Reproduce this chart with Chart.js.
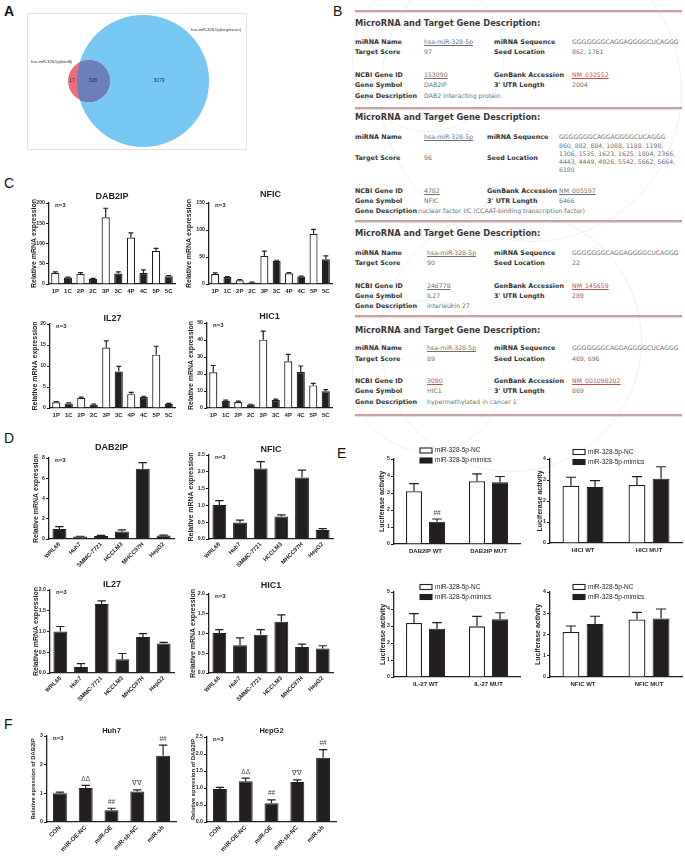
<!DOCTYPE html>
<html><head><meta charset="utf-8">
<script src="https://cdn.jsdelivr.net/npm/chart.js@4.4.1/dist/chart.umd.min.js"></script>
<style>
body{margin:0;background:#fff;}
#fig{position:relative;width:685px;height:857px;overflow:hidden;font-family:Arial,"Liberation Sans",sans-serif;}
.pl{position:absolute;font-size:14px;color:#111;line-height:1}
canvas{position:absolute}
.b{position:absolute;white-space:nowrap;line-height:1;font-family:"DejaVu Sans",Verdana,sans-serif}
.h{font-weight:bold;font-size:8.3px;color:#3a3a3a}
.k{font-weight:bold;font-size:6.4px;color:#333}
.v{font-size:6.2px;color:#707070}
.u{text-decoration:underline}
.r{color:#c0504d;text-decoration:underline}
.sep{position:absolute;left:355px;width:327px;height:2px;background:#c9a3a3;box-shadow:0 1px 0 #eadada}
.wm{position:absolute;border:1px solid #efefef;border-radius:50%}
#vennBox{position:absolute;left:27px;top:13px;width:218px;height:135px;border:1px solid #e2e2e2}
</style></head><body><div id="fig">
<div class="pl" style="left:4px;top:4px;font-weight:bold">A</div>
<div class="pl" style="left:333px;top:4px">B</div>
<div class="pl" style="left:4px;top:176px">C</div>
<div class="pl" style="left:4px;top:431px">D</div>
<div class="pl" style="left:337px;top:446px">E</div>
<div class="pl" style="left:4px;top:717px">F</div>
<div id="vennBox"></div>
<div class="wm" style="left:352px;top:-20px;width:150px;height:150px"></div>
<div class="wm" style="left:380px;top:-60px;width:300px;height:300px"></div>
<div class="wm" style="left:352px;top:300px;width:150px;height:150px"></div>
<div class="wm" style="left:380px;top:210px;width:260px;height:260px"></div>
</div>
<script>
// ---------- data ----------
const vennSets = ['hsa-miR-328-5p(mirdb)', 'hsa-miR-328-5p(targetscan)'];
const vennCounts = [17, 328, 3079]; // mirdb only, both, targetscan only

const tissues = ['1P', '1C', '2P', '2C', '3P', '3C', '4P', '4C', '5P', '5C'];
const cDab2ip = [27, 16, 25, 13, 165, 26, 115, 27, 82, 19];
const cDab2ipErr = [3, 1, 3, 1, 22, 4, 11, 8, 6, 2];
const cNfic = [18.5, 13, 7, 3, 52, 43, 20, 14, 93, 46];
const cNficErr = [2, 0.5, 1, 0.5, 9, 1, 1, 0.5, 8, 6];
const cIl27 = [1.35, 1.1, 2.4, 0.8, 14.4, 8.7, 3.3, 2.6, 12.7, 1.0];
const cIl27Err = [0.15, 0.1, 0.2, 0.1, 1.6, 1.2, 0.4, 0.2, 2.0, 0.1];
const cHic1 = [21, 4.3, 3.5, 2, 40.2, 4.7, 27.5, 21.2, 13.3, 9.8];
const cHic1Err = [4, 0.3, 0.5, 0.2, 5, 0.5, 4, 3.5, 1.2, 1];

const cellLines = ['WRL68', 'Huh7', 'SMMC-7721', 'HCCLM3', 'MHCC97H', 'HepG2'];
const dDab2ip = [1.0, 0.25, 0.3, 0.75, 6.95, 0.35];
const dDab2ipErr = [0.22, 0.02, 0.06, 0.15, 0.6, 0.04];
const dNfic = [1.01, 0.49, 2.1, 0.67, 1.83, 0.27];
const dNficErr = [0.13, 0.07, 0.2, 0.05, 0.22, 0.04];
const dIl27 = [1.0, 0.145, 1.66, 0.33, 0.87, 0.71];
const dIl27Err = [0.12, 0.08, 0.08, 0.14, 0.08, 0.03];
const dHic1 = [1.01, 0.7, 0.97, 1.3, 0.66, 0.62];
const dHic1Err = [0.09, 0.19, 0.13, 0.17, 0.07, 0.07];

const lucSeries = ['miR-328-5p-NC', 'miR-328-5p-mimics'];
const lucDab2ip = ['DAB2IP WT', 'DAB2IP MUT'];
const lucHic1 = ['HICI WT', 'HICI MUT'];
const lucIl27 = ['IL-27 WT', 'IL-27 MUT'];
const lucNfic = ['NFIC WT', 'NFIC MUT'];
const eDab2ipNC = [3.1, 3.69], eDab2ipNCErr = [0.45, 0.44];
const eDab2ipMim = [1.31, 3.63], eDab2ipMimErr = [0.16, 0.34];
const eHic1NC = [2.73, 2.76], eHic1NCErr = [0.4, 0.4];
const eHic1Mim = [2.67, 3.06], eHic1MimErr = [0.3, 0.57];
const eIl27NC = [3.18, 2.98], eIl27NCErr = [0.55, 0.59];
const eIl27Mim = [2.84, 3.39], eIl27MimErr = [0.36, 0.39];
const eNficNC = [2.12, 2.71], eNficNCErr = [0.28, 0.33];
const eNficMim = [2.5, 2.75], eNficMimErr = [0.36, 0.45];

const groups = ['CON', 'miR-OE-NC', 'miR-OE', 'miR-sh-NC', 'miR-sh'];
const fHuh7 = [1.0, 1.19, 0.41, 1.06, 2.31];
const fHuh7Err = [0.04, 0.09, 0.07, 0.06, 0.37];
const fHepG2 = [0.97, 1.2, 0.55, 1.18, 1.89];
const fHepG2Err = [0.05, 0.09, 0.1, 0.06, 0.24];
const fMarks = ['', 'ΔΔ', '##', '∇∇', '##'];

// ---------- helpers ----------
const fig = document.getElementById('fig');
const ink = '#231f20';
const FONT = 'Arial, "Liberation Sans", sans-serif';

// panel B text
const B = [
  [355, 23, 'MicroRNA and Target Gene Description:', 'h'],
  [355, 43, 'miRNA Name', 'k'], [424, 43, 'hsa-miR-328-5p', 'v u'], [494, 43, 'miRNA Sequence', 'k'], [572, 43, 'GGGGGGGCAGGAGGGGCUCAGGG', 'v'],
  [355, 53, 'Target Score', 'k'], [424, 53, '97', 'v'], [494, 53, 'Seed Location', 'k'], [572, 53, '862, 1761', 'v'],
  [355, 76, 'NCBI Gene ID', 'k'], [424, 76, '153090', 'v u'], [494, 76, 'GenBank Accession', 'k'], [572, 76, 'NM_032552', 'v r'],
  [355, 86, 'Gene Symbol', 'k'], [424, 86, 'DAB2IP', 'v'], [494, 86, "3' UTR Length", 'k'], [572, 86, '2004', 'v'],
  [355, 97, 'Gene Description', 'k'], [424, 97, 'DAB2 interacting protein', 'v'],
  [355, 117, 'MicroRNA and Target Gene Description:', 'h'],
  [355, 138, 'miRNA Name', 'k'], [424, 138, 'hsa-miR-328-5p', 'v u'], [487, 138, 'miRNA Sequence', 'k'], [559, 138, 'GGGGGGGCAGGAGGGGCUCAGGG', 'v'],
  [559, 147, '860, 882, 884, 1088, 1188, 1190,', 'v'], [559, 155, '1306, 1535, 1623, 1625, 1804, 2366,', 'v'],
  [559, 163, '4443, 4449, 4926, 5542, 5662, 5664,', 'v'], [559, 171, '6180', 'v'],
  [355, 159, 'Target Score', 'k'], [424, 159, '96', 'v'], [487, 159, 'Seed Location', 'k'],
  [355, 192, 'NCBI Gene ID', 'k'], [424, 192, '4782', 'v u'], [487, 192, 'GenBank Accession', 'k'], [559, 192, 'NM_005597', 'v u'],
  [355, 202, 'Gene Symbol', 'k'], [424, 202, 'NFIC', 'v'], [487, 202, "3' UTR Length", 'k'], [559, 202, '6466', 'v'],
  [355, 212, 'Gene Description', 'k'], [418, 212, 'nuclear factor I/C (CCAAT-binding transcription factor)', 'v'],
  [355, 233, 'MicroRNA and Target Gene Description:', 'h'],
  [355, 254, 'miRNA Name', 'k'], [427, 254, 'hsa-miR-328-5p', 'v u'], [494, 254, 'miRNA Sequence', 'k'], [572, 254, 'GGGGGGGCAGGAGGGGCUCAGGG', 'v'],
  [355, 264, 'Target Score', 'k'], [427, 264, '90', 'v'], [494, 264, 'Seed Location', 'k'], [572, 264, '22', 'v'],
  [355, 287, 'NCBI Gene ID', 'k'], [427, 287, '246778', 'v u'], [494, 287, 'GenBank Accession', 'k'], [572, 287, 'NM_145659', 'v r'],
  [355, 297, 'Gene Symbol', 'k'], [427, 297, 'IL27', 'v'], [494, 297, "3' UTR Length", 'k'], [572, 297, '289', 'v'],
  [355, 307, 'Gene Description', 'k'], [427, 307, 'interleukin 27', 'v'],
  [355, 330, 'MicroRNA and Target Gene Description:', 'h'],
  [355, 349, 'miRNA Name', 'k'], [427, 349, 'hsa-miR-328-5p', 'v u'], [494, 349, 'miRNA Sequence', 'k'], [572, 349, 'GGGGGGGCAGGAGGGGCUCAGGG', 'v'],
  [355, 360, 'Target Score', 'k'], [427, 360, '89', 'v'], [494, 360, 'Seed Location', 'k'], [572, 360, '469, 696', 'v'],
  [355, 382, 'NCBI Gene ID', 'k'], [427, 382, '3090', 'v r'], [494, 382, 'GenBank Accession', 'k'], [572, 382, 'NM_001098202', 'v r'],
  [355, 392, 'Gene Symbol', 'k'], [427, 392, 'HIC1', 'v'], [494, 392, "3' UTR Length", 'k'], [572, 392, '869', 'v'],
  [355, 403, 'Gene Description', 'k'], [427, 403, 'hypermethylated in cancer 1', 'v']
];
B.forEach(([x, y, t, cls]) => {
  const d = document.createElement('div');
  d.className = 'b ' + cls;
  d.textContent = t;
  d.style.left = x + 'px';
  d.style.top = (y - 4) + 'px';
  fig.appendChild(d);
});
[10, 107, 220, 315, 414].forEach(y => {
  const d = document.createElement('div');
  d.className = 'sep';
  d.style.top = y + 'px';
  fig.appendChild(d);
});

// error bars + marks
const errorBars = {
  id: 'errorBars',
  afterDatasetsDraw(chart) {
    const ctx = chart.ctx, y = chart.scales.y;
    chart.data.datasets.forEach((ds, i) => {
      if (!ds.errors) return;
      chart.getDatasetMeta(i).data.forEach((bar, j) => {
        const top = y.getPixelForValue(ds.data[j] + ds.errors[j]);
        const cap = bar.width * 0.3;
        ctx.save();
        ctx.strokeStyle = ink;
        ctx.lineWidth = 1.2;
        ctx.beginPath();
        ctx.moveTo(bar.x, bar.y);
        ctx.lineTo(bar.x, top);
        ctx.moveTo(bar.x - cap, top);
        ctx.lineTo(bar.x + cap, top);
        ctx.stroke();
        if (ds.marks && ds.marks[j]) {
          ctx.fillStyle = '#444';
          ctx.font = '6.5px ' + FONT;
          ctx.textAlign = 'center';
          ctx.textBaseline = 'bottom';
          ctx.fillText(ds.marks[j], bar.x, top - 3);
        }
        ctx.restore();
      });
    });
  }
};

// titles, n=3, legends
const panelText = {
  id: 'panelText',
  afterDraw(chart, args, o) {
    const ctx = chart.ctx, a = chart.chartArea;
    ctx.save();
    ctx.fillStyle = ink;
    ctx.textBaseline = 'middle';
    if (o.title) {
      ctx.font = 'bold ' + (o.titleSize || 9) + 'px ' + FONT;
      ctx.textAlign = 'center';
      ctx.fillText(o.title, (a.left + a.right) / 2, a.top + o.titleDy);
    }
    if (o.note) {
      ctx.font = 'bold 6px ' + FONT;
      ctx.textAlign = 'left';
      ctx.fillText(o.note, a.left + 6, a.top + 2);
    }
    if (o.legend) {
      chart.data.datasets.forEach((ds, i) => {
        const x = a.left + o.legend.dx, yy = a.top + o.legend.dy + i * 10;
        ctx.fillStyle = ds.backgroundColor;
        ctx.fillRect(x, yy - 2.5, 12, 5);
        ctx.strokeStyle = ink;
        ctx.lineWidth = 1.1;
        ctx.strokeRect(x, yy - 2.5, 12, 5);
        ctx.fillStyle = ink;
        ctx.font = '6.5px ' + FONT;
        ctx.textAlign = 'left';
        ctx.fillText(ds.label, x + 15, yy);
      });
    }
    ctx.restore();
  }
};

function barChart(g) {
  const cl = g.tx - 6;
  const ct = g.top - (g.padT || 16);
  const padR = 4;
  const w = Math.round(g.right + padR - cl), h = Math.round(g.bottom + g.xH - ct);
  const c = document.createElement('canvas');
  c.width = w; c.height = h;
  c.style.left = cl + 'px';
  c.style.top = ct + 'px';
  c.style.width = w + 'px';
  c.style.height = h + 'px';
  fig.appendChild(c);
  return new Chart(c, {
    type: 'bar',
    data: { labels: g.labels, datasets: g.datasets },
    options: {
      responsive: false,
      animation: false,
      events: [],
      layout: { padding: { top: g.top - ct, right: padR, left: 0, bottom: 0 } },
      datasets: { bar: { categoryPercentage: g.catPct || 1, barPercentage: g.barPct } },
      plugins: { legend: { display: false }, tooltip: { enabled: false }, panelText: g.text },
      scales: {
        x: {
          grid: { display: false, drawTicks: false },
          border: { display: true, color: ink, width: 1.3 },
          ticks: {
            color: ink, autoSkip: false, padding: g.rot ? 2 : 4,
            font: { family: FONT, size: g.xSize || 6, weight: 'bold' },
            maxRotation: g.rot || 0, minRotation: g.rot || 0
          },
          afterFit: s => { s.height = g.xH; s.paddingLeft = 0; s.paddingRight = 0; }
        },
        y: {
          min: 0, max: g.max,
          ticks: {
            stepSize: g.step, color: ink, padding: 1,
            font: { family: FONT, size: 5.2, weight: 'bold' },
            callback: v => g.dec ? v.toFixed(g.dec) : v
          },
          grid: { drawOnChartArea: false, drawTicks: true, tickLength: 3, color: ink, lineWidth: 1 },
          border: { display: true, color: ink, width: 1.3 },
          title: {
            display: true, text: g.yTitle, color: ink,
            font: { family: FONT, size: g.ySize || 7, weight: 'bold' }, padding: { top: 2, bottom: 0 }
          },
          afterFit: s => { s.width = g.left - cl; s.paddingTop = 0; s.paddingBottom = 0; }
        }
      }
    },
    plugins: [errorBars, panelText]
  });
}

// ---------- A: Venn (circle area ~ set size, drawn through the scales) ----------
(function () {
  const c = document.createElement('canvas');
  c.width = 219; c.height = 136;
  c.style.left = '27px'; c.style.top = '13px';
  fig.appendChild(c);
  const vennLayer = {
    id: 'vennLayer',
    beforeDatasetsDraw(chart) {
      const ctx = chart.ctx, sx = chart.scales.x, sy = chart.scales.y;
      const unit = sx.getPixelForValue(1) - sx.getPixelForValue(0);
      const circ = chart.data.datasets.map(ds => {
        const p = ds.data[0];
        return { x: sx.getPixelForValue(p.x), y: sy.getPixelForValue(p.y), r: Math.sqrt(p.n) * unit, fill: ds.fillColor };
      });
      const [small, big] = circ;
      ctx.save();
      [big, small].forEach(k => {
        ctx.fillStyle = k.fill;
        ctx.beginPath();
        ctx.arc(k.x, k.y, k.r, 0, Math.PI * 2);
        ctx.fill();
      });
      ctx.beginPath();
      ctx.arc(big.x, big.y, big.r, 0, Math.PI * 2);
      ctx.clip();
      ctx.fillStyle = '#6b7fb9';
      ctx.beginPath();
      ctx.arc(small.x, small.y, small.r, 0, Math.PI * 2);
      ctx.fill();
      ctx.restore();
      ctx.save();
      ctx.fillStyle = '#333';
      ctx.font = '5px ' + FONT;
      ctx.textAlign = 'center';
      ctx.textBaseline = 'middle';
      const yc = sy.getPixelForValue(60.1);
      ctx.fillText(vennCounts[0], sx.getPixelForValue(39.8), yc);
      ctx.fillText(vennCounts[1], sx.getPixelForValue(58.3), yc);
      ctx.fillText(vennCounts[2], sx.getPixelForValue(116.7), yc);
      ctx.font = '4px ' + FONT;
      ctx.textAlign = 'left';
      ctx.fillText(vennSets[0], sx.getPixelForValue(3.5), sy.getPixelForValue(43.3));
      ctx.fillText(vennSets[1], sx.getPixelForValue(145), sy.getPixelForValue(15));
      ctx.restore();
    }
  };
  new Chart(c, {
    type: 'bubble',
    data: {
      datasets: [
        { data: [{ x: 54.8, y: 60.1, n: vennCounts[0] + vennCounts[1] }], fillColor: '#ef6b7f', radius: 0, borderWidth: 0 },
        { data: [{ x: 102.6, y: 60.1, n: vennCounts[1] + vennCounts[2] }], fillColor: '#77c8f2', radius: 0, borderWidth: 0 }
      ]
    },
    options: {
      responsive: false, animation: false, events: [],
      layout: { padding: 0 },
      plugins: { legend: { display: false }, tooltip: { enabled: false } },
      scales: {
        x: { display: false, min: 0, max: 193.6 },
        y: { display: false, min: 0, max: 120.2, reverse: true }
      }
    },
    plugins: [vennLayer]
  });
})();

// ---------- C ----------
const pFill = tissues.map(l => l.endsWith('P') ? '#fff' : ink);
const cSet = (d, e) => [{ data: d, errors: e, backgroundColor: pFill, borderColor: ink, borderWidth: 1.2 }];
const cBase = { labels: tissues, barPct: 0.65, xH: 16, yTitle: 'Relative mRNA expression' };
barChart({ ...cBase, tx: 34, left: 49, right: 175, top: 203, bottom: 284, max: 200, step: 50,
  datasets: cSet(cDab2ip, cDab2ipErr), text: { title: 'DAB2IP', titleDy: -6, note: 'n=3' } });
barChart({ ...cBase, tx: 189, left: 209, right: 332, top: 203, bottom: 284, max: 150, step: 50,
  datasets: cSet(cNfic, cNficErr), text: { title: 'NFIC', titleDy: -8, note: 'n=3' } });
barChart({ ...cBase, tx: 35, left: 50, right: 175, top: 324, bottom: 408, max: 20, step: 5,
  datasets: cSet(cIl27, cIl27Err), text: { title: 'IL27', titleDy: -5, note: 'n=3' } });
barChart({ ...cBase, tx: 191, left: 207, right: 332, top: 323, bottom: 408, max: 50, step: 10,
  datasets: cSet(cHic1, cHic1Err), text: { title: 'HIC1', titleDy: -6, note: 'n=3' } });

// ---------- D ----------
const dSet = (d, e) => [{ data: d, errors: e, backgroundColor: ink, borderColor: ink, borderWidth: 1 }];
const dBase = { labels: cellLines, barPct: 0.67, xH: 45, rot: 45, xSize: 5.8, yTitle: 'Relative mRNA expression' };
barChart({ ...dBase, tx: 36, left: 49, right: 174, top: 458, bottom: 539, max: 8, step: 2,
  datasets: dSet(dDab2ip, dDab2ipErr), text: { title: 'DAB2IP', titleDy: -10, note: 'n=3' } });
barChart({ ...dBase, tx: 191, left: 209, right: 333, top: 455, bottom: 539, max: 2.5, step: 0.5, dec: 1,
  datasets: dSet(dNfic, dNficErr), text: { title: 'NFIC', titleDy: -5, note: 'n=3' } });
barChart({ ...dBase, tx: 36, left: 50, right: 174, top: 590, bottom: 673, max: 2, step: 0.5, dec: 1,
  datasets: dSet(dIl27, dIl27Err), text: { title: 'IL27', titleDy: -5, note: 'n=3' } });
barChart({ ...dBase, tx: 193, left: 209, right: 333, top: 594, bottom: 673, max: 2, step: 0.5, dec: 1,
  datasets: dSet(dHic1, dHic1Err), text: { title: 'HIC1', titleDy: -8, note: 'n=3' } });

// ---------- E ----------
const eSet = (nc, ncE, mi, miE, miMarks) => [
  { label: lucSeries[0], data: nc, errors: ncE, backgroundColor: '#fff', borderColor: ink, borderWidth: 1.3 },
  { label: lucSeries[1], data: mi, errors: miE, marks: miMarks, backgroundColor: ink, borderColor: ink, borderWidth: 1 }
];
const eBase = { catPct: 0.73, barPct: 0.7, xH: 18, xSize: 6, yTitle: 'Luciferase activity', padT: 20 };
barChart({ ...eBase, labels: lucDab2ip, tx: 382, left: 394, right: 520, top: 458.5, bottom: 543, max: 5, step: 1,
  datasets: eSet(eDab2ipNC, eDab2ipNCErr, eDab2ipMim, eDab2ipMimErr, ['##', '']), text: { legend: { dx: 26, dy: -8.5 } } });
barChart({ ...eBase, labels: lucHic1, tx: 540, left: 550, right: 682, top: 459, bottom: 543, max: 4, step: 1,
  datasets: eSet(eHic1NC, eHic1NCErr, eHic1Mim, eHic1MimErr), text: { legend: { dx: 23, dy: -7 } } });
barChart({ ...eBase, labels: lucIl27, tx: 383, left: 394, right: 520, top: 592, bottom: 677, max: 5, step: 1,
  datasets: eSet(eIl27NC, eIl27NCErr, eIl27Mim, eIl27MimErr), text: { legend: { dx: 26, dy: -5 } } });
barChart({ ...eBase, labels: lucNfic, tx: 538, left: 550, right: 682, top: 592, bottom: 677, max: 4, step: 1,
  datasets: eSet(eNficNC, eNficNCErr, eNficMim, eNficMimErr), text: { legend: { dx: 23, dy: -5 } } });

// ---------- F ----------
const fSet = (d, e) => [{ data: d, errors: e, marks: fMarks, backgroundColor: ink, borderColor: ink, borderWidth: 1 }];
const fBase = { labels: groups, barPct: 0.54, xH: 36, rot: 45, xSize: 6.2, ySize: 5.8, yTitle: 'Relative epression of DAB2IP' };
barChart({ ...fBase, tx: 34, left: 47, right: 176, top: 736, bottom: 822, max: 3, step: 1,
  datasets: fSet(fHuh7, fHuh7Err), text: { title: 'Huh7', titleSize: 7.5, titleDy: -5, note: 'n=3' } });
barChart({ ...fBase, tx: 194, left: 207, right: 336, top: 737, bottom: 822, max: 2.5, step: 0.5, dec: 1,
  datasets: fSet(fHepG2, fHepG2Err), text: { title: 'HepG2', titleSize: 7.5, titleDy: -6, note: 'n=3' } });
</script>
</body></html>
